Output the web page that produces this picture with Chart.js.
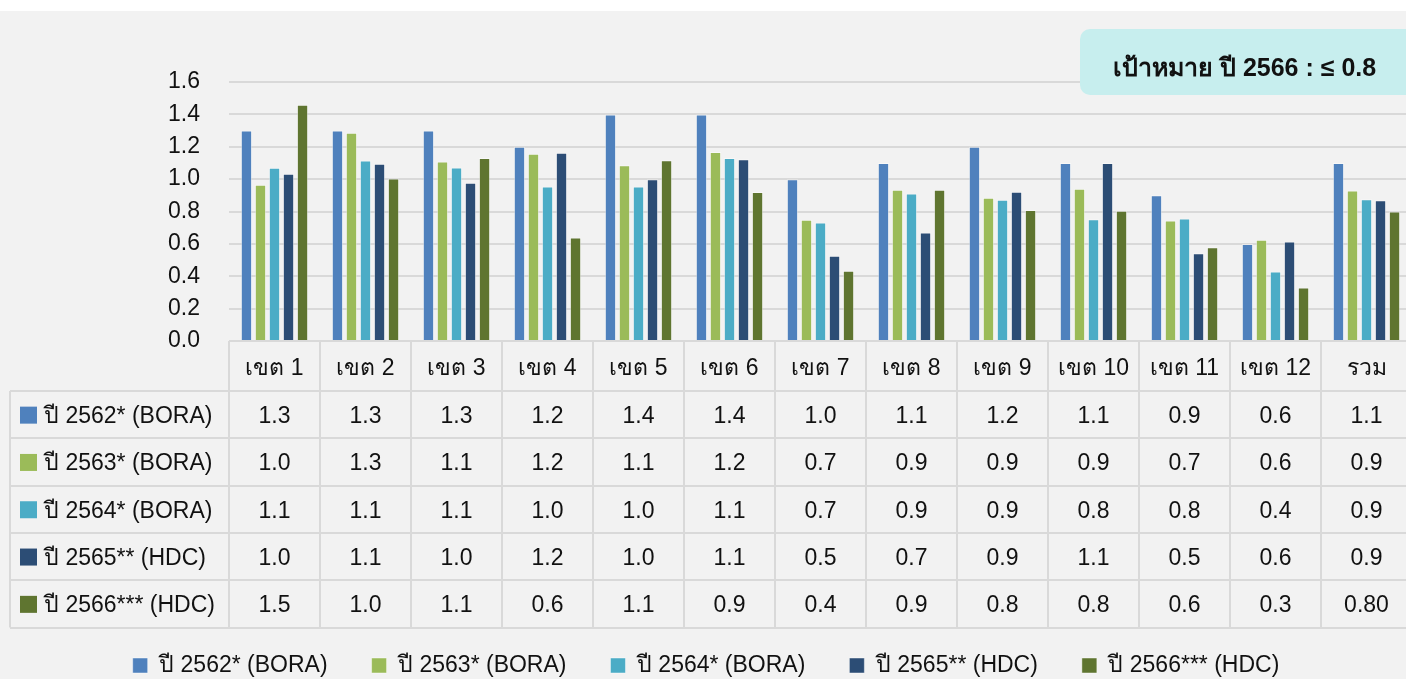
<!DOCTYPE html>
<html>
<head>
<meta charset="utf-8">
<title>Chart</title>
<style>
  html, body { margin: 0; background: #fff; overflow: hidden; }
  #wrap { position: absolute; top: 11px; left: 0; width: 1406px; height: 668px; background: #f2f2f2; overflow: hidden; }
  #canvas { position: absolute; left: 0; top: 0; }
</style>
</head>
<body>
<div id="wrap"><canvas id="canvas" width="1412" height="676"></canvas></div>
<script src="https://cdn.jsdelivr.net/npm/chart.js@4.4.1/dist/chart.umd.min.js"></script>
<script>
const FONT = "Tahoma, 'Liberation Sans', 'Noto Sans', sans-serif";

const categories = ['เขต 1', 'เขต 2', 'เขต 3', 'เขต 4', 'เขต 5', 'เขต 6', 'เขต 7',
  'เขต 8', 'เขต 9', 'เขต 10', 'เขต 11', 'เขต 12', 'รวม'];
const seriesNames = ['ปี 2562* (BORA)', 'ปี 2563* (BORA)', 'ปี 2564* (BORA)', 'ปี 2565** (HDC)', 'ปี 2566*** (HDC)'];
const seriesColors = ['#4f81bd', '#9bbb59', '#4bacc6', '#2c4d75', '#5f7530'];

// bar heights
const y2562 = [1.30, 1.30, 1.30, 1.20, 1.40, 1.40, 1.00, 1.10, 1.20, 1.10, 0.90, 0.60, 1.10];
const y2563 = [0.965, 1.286, 1.109, 1.156, 1.086, 1.167, 0.749, 0.934, 0.885, 0.94, 0.744, 0.626, 0.93];
const y2564 = [1.07, 1.115, 1.072, 0.955, 0.955, 1.13, 0.732, 0.911, 0.872, 0.752, 0.757, 0.43, 0.875];
const y2565 = [1.033, 1.095, 0.977, 1.163, 1.0, 1.123, 0.527, 0.671, 0.922, 1.10, 0.542, 0.614, 0.869];
const y2566 = [1.46, 1.004, 1.131, 0.639, 1.117, 0.92, 0.434, 0.934, 0.81, 0.804, 0.579, 0.331, 0.80];

// numbers printed in the data table
const t2562 = ['1.3', '1.3', '1.3', '1.2', '1.4', '1.4', '1.0', '1.1', '1.2', '1.1', '0.9', '0.6', '1.1'];
const t2563 = ['1.0', '1.3', '1.1', '1.2', '1.1', '1.2', '0.7', '0.9', '0.9', '0.9', '0.7', '0.6', '0.9'];
const t2564 = ['1.1', '1.1', '1.1', '1.0', '1.0', '1.1', '0.7', '0.9', '0.9', '0.8', '0.8', '0.4', '0.9'];
const t2565 = ['1.0', '1.1', '1.0', '1.2', '1.0', '1.1', '0.5', '0.7', '0.9', '1.1', '0.5', '0.6', '0.9'];
const t2566 = ['1.5', '1.0', '1.1', '0.6', '1.1', '0.9', '0.4', '0.9', '0.8', '0.8', '0.6', '0.3', '0.80'];

const targetText = 'เป้าหมาย ปี 2566 : ≤ 0.8';

const seriesValues = [y2562, y2563, y2564, y2565, y2566];
const tableRows = [t2562, t2563, t2564, t2565, t2566];

const GRID = '#d9d9d9';
const TEXT = '#111';
const FS = 23;

// draws the data table under the axis and the target box
const tablePlugin = {
  id: 'dataTable',
  afterDraw(chart) {
    const { ctx, chartArea, scales: { x } } = chart;
    const top = chartArea.bottom;
    const headH = 50;
    const rowH = 47.3;
    const left = 10;
    const half = (x.getPixelForValue(1) - x.getPixelForValue(0)) / 2;
    const edges = categories.map((c, i) => x.getPixelForValue(i) - half);
    edges.push(x.getPixelForValue(categories.length - 1) + half);
    const bottom = top + headH + rowH * tableRows.length;

    ctx.save();
    ctx.strokeStyle = GRID;
    ctx.lineWidth = 2;
    ctx.beginPath();
    ctx.moveTo(chartArea.left, top);
    ctx.lineTo(chartArea.right, top);
    for (let r = 0; r <= tableRows.length; r++) {
      const yy = Math.round(top + headH + rowH * r);
      ctx.moveTo(left, yy);
      ctx.lineTo(chartArea.right, yy);
    }
    ctx.moveTo(left, top + headH);
    ctx.lineTo(left, bottom);
    edges.forEach(e => {
      ctx.moveTo(e, top);
      ctx.lineTo(e, bottom);
    });
    ctx.stroke();

    ctx.font = FS + 'px ' + FONT;
    ctx.fillStyle = TEXT;
    ctx.textBaseline = 'middle';
    tableRows.forEach((row, r) => {
      const cy = top + headH + rowH * r + rowH / 2;
      ctx.fillStyle = seriesColors[r];
      ctx.fillRect(20, cy - 8, 17, 17);
      ctx.fillStyle = TEXT;
      ctx.textAlign = 'left';
      ctx.fillText(seriesNames[r], 44, cy + 2);
      ctx.textAlign = 'center';
      row.forEach((txt, i) => ctx.fillText(txt, x.getPixelForValue(i), cy + 2));
    });

    // target box, top right
    ctx.fillStyle = '#c7eeee';
    ctx.beginPath();
    ctx.roundRect(1080, 18, 400, 66, 10);
    ctx.fill();
    ctx.fillStyle = TEXT;
    ctx.font = 'bold 25px ' + FONT;
    ctx.textAlign = 'left';
    ctx.fillText(targetText, 1113, 58);
    ctx.restore();
  }
};

new Chart(document.getElementById('canvas'), {
  type: 'bar',
  data: {
    labels: categories,
    datasets: seriesNames.map((name, i) => ({
      label: name,
      data: seriesValues[i],
      backgroundColor: seriesColors[i],
      borderColor: 'rgba(255,255,255,0.45)',
      borderWidth: 1,
      categoryPercentage: 0.77,
      barPercentage: 0.81
    }))
  },
  options: {
    responsive: false,
    animation: false,
    layout: { padding: { top: 71, left: 0, right: 0, bottom: 0 } },
    plugins: {
      tooltip: { enabled: false },
      legend: {
        position: 'bottom',
        labels: {
          font: { family: FONT, size: FS },
          color: TEXT,
          boxWidth: 15,
          boxHeight: 15,
          padding: 44
        }
      }
    },
    scales: {
      x: {
        grid: { display: false, drawTicks: false },
        border: { display: false },
        ticks: {
          font: { family: FONT, size: FS },
          color: TEXT,
          padding: 14,
          maxRotation: 0,
          autoSkip: false
        },
        afterFit(s) { s.height = 269; }
      },
      y: {
        min: 0,
        max: 1.6,
        grid: { color: GRID, lineWidth: 2, drawTicks: false },
        border: { display: false },
        ticks: {
          stepSize: 0.2,
          font: { family: FONT, size: FS },
          color: TEXT,
          padding: 29,
          callback: v => v.toFixed(1)
        },
        afterFit(s) { s.width = 229; }
      }
    }
  },
  plugins: [tablePlugin]
});
</script>
</body>
</html>
